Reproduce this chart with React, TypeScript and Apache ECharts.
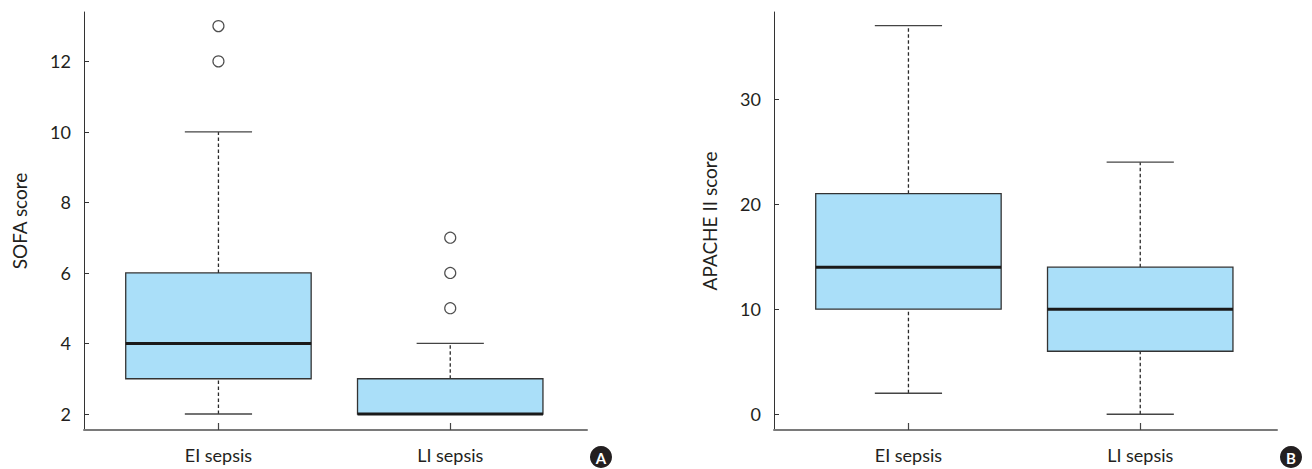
import React, { useEffect, useRef } from "react";
import * as echarts from "echarts";

const categories = ["EI sepsis", "LI sepsis"];
// [low whisker, Q1, median, Q3, high whisker]
const sofaBoxes = [
  [2, 3, 4, 6, 10],
  [2, 2, 2, 3, 4],
];
const sofaOutliers = [
  [0, 12],
  [0, 13],
  [1, 5],
  [1, 6],
  [1, 7],
];
const apacheBoxes = [
  [2, 10, 14, 21, 37],
  [0, 6, 10, 14, 24],
];
const sofaTicks = [2, 4, 6, 8, 10, 12];
const apacheTicks = [0, 10, 20, 30];
const catPositions = [0, 1];
const panelLabels = ["A", "B"];

const FONT = "Lato";
const TEXT = "#231f20";
const FILL = "#aadff9";

function boxRender(params: any, api: any) {
  const x = api.value(0);
  const low = api.value(1);
  const q1 = api.value(2);
  const med = api.value(3);
  const q3 = api.value(4);
  const high = api.value(5);
  const half = api.size([0.8, 0])[0] / 2;
  const capHalf = api.size([0.29, 0])[0] / 2;
  const pLow = api.coord([x, low]);
  const pQ1 = api.coord([x, q1]);
  const pMed = api.coord([x, med]);
  const pQ3 = api.coord([x, q3]);
  const pHigh = api.coord([x, high]);
  const cx = pLow[0];
  const children: any[] = [];
  const dash = { stroke: "#2a2a2a", lineWidth: 1.3, lineDash: [3.5, 2.5] };
  if (pLow[1] - pQ1[1] > 0.5) {
    children.push({ type: "line", shape: { x1: cx, y1: pLow[1], x2: cx, y2: pQ1[1] }, style: dash });
  }
  if (pQ3[1] - pHigh[1] > 0.5) {
    children.push({ type: "line", shape: { x1: cx, y1: pQ3[1], x2: cx, y2: pHigh[1] }, style: dash });
  }
  children.push({
    type: "line",
    shape: { x1: cx - capHalf, y1: pLow[1], x2: cx + capHalf, y2: pLow[1] },
    style: { stroke: "#444", lineWidth: 1.3 },
  });
  children.push({
    type: "line",
    shape: { x1: cx - capHalf, y1: pHigh[1], x2: cx + capHalf, y2: pHigh[1] },
    style: { stroke: "#444", lineWidth: 1.3 },
  });
  children.push({
    type: "rect",
    shape: { x: cx - half, y: pQ3[1], width: half * 2, height: pQ1[1] - pQ3[1] },
    style: { fill: FILL, stroke: "#333", lineWidth: 1.3 },
  });
  children.push({
    type: "line",
    shape: { x1: cx - half, y1: pMed[1], x2: cx + half, y2: pMed[1] },
    style: { stroke: "#1a1a1a", lineWidth: 3 },
  });
  return { type: "group", children };
}

function xAxisFor(gridIndex: number) {
  return {
    type: "value",
    gridIndex,
    min: -0.58,
    max: 1.59,
    splitLine: { show: false },
    axisLine: { show: true, onZero: false, lineStyle: { color: "#7a7a7a", width: 2 } },
    axisTick: { show: true, inside: true, length: 7, customValues: catPositions, lineStyle: { color: "#444", width: 1.2 } },
    axisLabel: {
      show: true,
      customValues: catPositions,
      formatter: (v: number) => categories[Math.round(v)] ?? "",
      margin: 16,
      fontSize: 18,
      fontFamily: FONT,
      color: TEXT,
    },
  };
}

function yAxisFor(gridIndex: number, name: string, min: number, max: number, ticks: number[]) {
  return {
    type: "value",
    gridIndex,
    min,
    max,
    name,
    nameLocation: "middle",
    nameGap: 55,
    nameTextStyle: { fontSize: 19, fontFamily: FONT, color: TEXT },
    splitLine: { show: false },
    axisLine: { show: true, onZero: false, lineStyle: { color: "#333", width: 1 } },
    axisTick: { show: true, inside: true, length: 5, customValues: ticks, lineStyle: { color: "#333" } },
    axisLabel: { customValues: ticks, margin: 13, fontSize: 18, fontFamily: FONT, color: TEXT },
  };
}

function badge(left: number, label: string) {
  return {
    type: "group",
    left,
    top: 446,
    children: [
      { type: "circle", shape: { cx: 11, cy: 11, r: 11 }, style: { fill: "#231f20" } },
      {
        type: "text",
        x: 11,
        y: 11.5,
        style: { text: label, fill: "#fff", font: `bold 15px ${FONT}`, align: "center", verticalAlign: "middle" },
      },
    ],
  };
}

export default function App() {
  const ref = useRef<HTMLDivElement>(null);
  useEffect(() => {
    document.body.style.margin = "0";
    const chart = echarts.init(ref.current!, null, { renderer: "svg" });
    const sofaData = sofaBoxes.map((b, i) => [catPositions[i], ...b]);
    const apacheData = apacheBoxes.map((b, i) => [catPositions[i], ...b]);
    chart.setOption({
      animation: false,
      backgroundColor: "#ffffff",
      grid: [
        { left: 84, right: 725, top: 12, bottom: 39 },
        { left: 774, right: 35, top: 12, bottom: 39 },
      ],
      xAxis: [xAxisFor(0), xAxisFor(1)],
      yAxis: [
        yAxisFor(0, "SOFA score", 1.546, 13.4, sofaTicks),
        yAxisFor(1, "APACHE II score", -1.5, 38.3, apacheTicks),
      ],
      series: [
        {
          type: "custom",
          xAxisIndex: 0,
          yAxisIndex: 0,
          renderItem: boxRender,
          encode: { x: 0, y: [1, 2, 3, 4, 5] },
          data: sofaData,
        },
        {
          type: "scatter",
          xAxisIndex: 0,
          yAxisIndex: 0,
          symbol: "circle",
          symbolSize: 11,
          itemStyle: { color: "#ffffff", borderColor: "#222", borderWidth: 1.2 },
          data: sofaOutliers,
        },
        {
          type: "custom",
          xAxisIndex: 1,
          yAxisIndex: 1,
          renderItem: boxRender,
          encode: { x: 0, y: [1, 2, 3, 4, 5] },
          data: apacheData,
        },
      ],
      graphic: [badge(590, panelLabels[0]), badge(1280, panelLabels[1])],
    });
    return () => chart.dispose();
  }, []);
  return <div ref={ref} style={{ width: 1312, height: 469 }} />;
}
